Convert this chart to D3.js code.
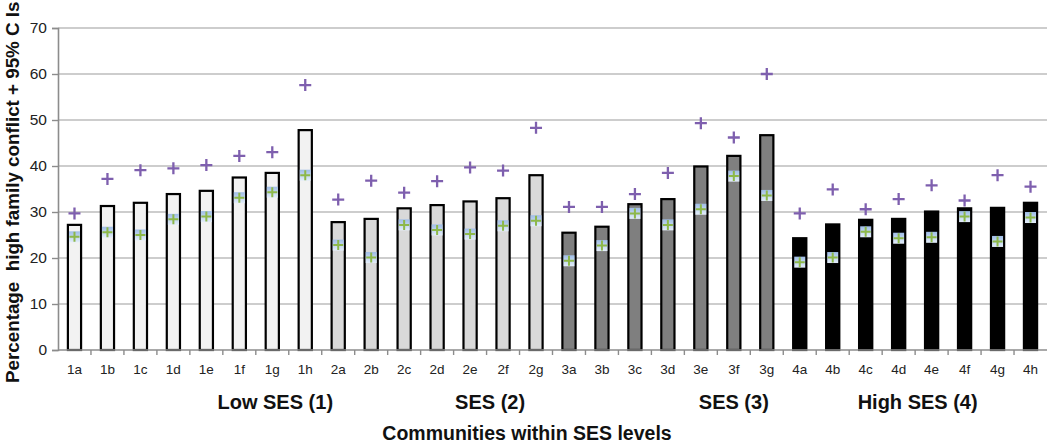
<!DOCTYPE html>
<html lang="en">
<head>
    <meta charset="utf-8">
    <title>High family conflict by community</title>
    <style>
        body { margin: 0; background: #fff; }
        text { font-family: "Liberation Sans", Arial, sans-serif; }
    </style>
</head>
<body>
    <svg width="1050" height="444"></svg>
    <script src="https://cdn.jsdelivr.net/npm/d3@7"></script>
    <script>
        // communities, grouped by SES level
        const communities = [
            "1a", "1b", "1c", "1d", "1e", "1f", "1g", "1h",
            "2a", "2b", "2c", "2d", "2e", "2f", "2g",
            "3a", "3b", "3c", "3d", "3e", "3f", "3g",
            "4a", "4b", "4c", "4d", "4e", "4f", "4g", "4h"
        ];
        const sesLevel = [
            1, 1, 1, 1, 1, 1, 1, 1,
            2, 2, 2, 2, 2, 2, 2,
            3, 3, 3, 3, 3, 3, 3,
            4, 4, 4, 4, 4, 4, 4, 4
        ];
        // percentage high family conflict
        const percent = [
            27.2, 31.3, 32.0, 33.9, 34.6, 37.5, 38.5, 47.8,
            27.8, 28.5, 30.8, 31.5, 32.3, 33.0, 38.0,
            25.5, 26.8, 31.7, 32.8, 39.9, 42.2, 46.7,
            24.3, 27.3, 28.3, 28.5, 30.1, 30.8, 30.9, 32.0
        ];
        // 95% confidence interval bounds
        const lowerCI = [
            24.6, 25.6, 25.0, 28.4, 29.0, 33.1, 34.3, 38.0,
            22.8, 20.1, 27.2, 26.1, 25.2, 27.0, 28.1,
            19.4, 22.7, 29.7, 27.2, 30.6, 37.8, 33.6,
            19.1, 20.1, 25.7, 24.3, 24.5, 29.0, 23.6, 28.8
        ];
        const upperCI = [
            29.7, 37.2, 39.1, 39.5, 40.2, 42.2, 43.0, 57.6,
            32.7, 36.8, 34.2, 36.7, 39.7, 39.0, 48.3,
            31.1, 31.1, 33.9, 38.5, 49.3, 46.2, 60.0,
            29.7, 34.9, 30.6, 32.8, 35.8, 32.5, 38.0, 35.5
        ];
        const yTicks = [0, 10, 20, 30, 40, 50, 60, 70];
        const groupLabels = ["Low SES (1)", "SES (2)", "SES (3)", "High SES (4)"];
        const groupFill = ["#f2f2f2", "#d9d9d9", "#7f7f7f", "#000000"];

        const svg = d3.select("svg");
        const margin = {top: 28, right: 3, bottom: 94, left: 58};
        const width = +svg.attr("width");
        const height = +svg.attr("height");
        const plotW = width - margin.left - margin.right;
        const plotH = height - margin.top - margin.bottom;

        const x = d3.scaleBand()
            .domain(communities)
            .range([margin.left, margin.left + plotW]);

        const y = d3.scaleLinear()
            .domain([0, 70])
            .range([margin.top + plotH, margin.top]);

        const rows = communities.map((c, i) => ({
            name: c, level: sesLevel[i], pct: percent[i], lo: lowerCI[i], hi: upperCI[i]
        }));

        // gridlines
        svg.append("g")
            .selectAll("line")
            .data(yTicks.filter(d => d > 0))
            .join("line")
                .attr("x1", margin.left)
                .attr("x2", margin.left + plotW)
                .attr("y1", d => y(d))
                .attr("y2", d => y(d))
                .attr("stroke", "#bdbdbd")
                .attr("stroke-width", 1.6);

        // y axis
        const yAxis = svg.append("g")
            .attr("transform", `translate(${margin.left},0)`)
            .call(d3.axisLeft(y).tickValues(yTicks).tickSize(6).tickPadding(5));
        yAxis.select(".domain").attr("stroke", "#8c8c8c").attr("stroke-width", 1.6);
        yAxis.selectAll(".tick line").attr("stroke", "#8c8c8c").attr("stroke-width", 1.4);
        yAxis.selectAll(".tick text")
            .attr("font-size", 15.5)
            .attr("fill", "#222")
            .attr("font-family", "Liberation Sans, Arial, sans-serif");

        // bars
        const barW = x.bandwidth() * 0.4;
        svg.append("g")
            .selectAll("rect")
            .data(rows)
            .join("rect")
                .attr("x", d => x(d.name) + (x.bandwidth() - barW) / 2)
                .attr("y", d => y(d.pct))
                .attr("width", barW)
                .attr("height", d => y(0) - y(d.pct))
                .attr("fill", d => groupFill[d.level - 1])
                .attr("stroke", "#000")
                .attr("stroke-width", 2.2);

        // x axis
        const xAxisG = svg.append("g")
            .attr("transform", `translate(0,${y(0)})`);
        xAxisG.append("line")
            .attr("x1", margin.left)
            .attr("x2", margin.left + plotW)
            .attr("stroke", "#8c8c8c")
            .attr("stroke-width", 1.6);
        xAxisG.selectAll("line.tick")
            .data(communities.slice(1))
            .join("line")
                .attr("class", "tick")
                .attr("x1", d => x(d))
                .attr("x2", d => x(d))
                .attr("y1", 0)
                .attr("y2", 5)
                .attr("stroke", "#8c8c8c")
                .attr("stroke-width", 1.4);
        xAxisG.selectAll("text")
            .data(communities)
            .join("text")
                .attr("x", d => x(d) + x.bandwidth() / 2)
                .attr("y", 24)
                .attr("text-anchor", "middle")
                .attr("font-size", 13.5)
                .attr("fill", "#222")
                .text(d => d);

        // upper CI markers (purple plus)
        const plus = s => `M${-s},0H${s}M0,${-s}V${s}`;
        svg.append("g")
            .selectAll("path")
            .data(rows)
            .join("path")
                .attr("transform", d => `translate(${x(d.name) + x.bandwidth() / 2},${y(d.hi)})`)
                .attr("d", plus(6))
                .attr("stroke", "#7e5fae")
                .attr("stroke-width", 2.3)
                .attr("fill", "none");

        // lower CI markers (green plus on pale blue square)
        const defs = svg.append("defs");
        const grad = defs.append("linearGradient")
            .attr("id", "lowgrad")
            .attr("x1", 0).attr("y1", 0).attr("x2", 0).attr("y2", 1);
        grad.append("stop").attr("offset", "0%").attr("stop-color", "#9fbde6");
        grad.append("stop").attr("offset", "100%").attr("stop-color", "#e4eefa");

        const lowG = svg.append("g")
            .selectAll("g")
            .data(rows)
            .join("g")
                .attr("transform", d => `translate(${x(d.name) + x.bandwidth() / 2},${y(d.lo)})`);
        lowG.append("rect")
            .attr("x", -5.5).attr("y", -5.5)
            .attr("width", 11).attr("height", 11)
            .attr("fill", "url(#lowgrad)");
        lowG.append("path")
            .attr("d", plus(5))
            .attr("stroke", "#8db84a")
            .attr("stroke-width", 2)
            .attr("fill", "none");

        // SES group labels, placed under the community they sit beneath
        const groupAnchor = ["1g", "2e", "3f", "4d"];
        const groupShift = [3, 20, 0, 19];
        svg.append("g")
            .selectAll("text")
            .data(groupLabels)
            .join("text")
                .attr("x", (d, i) => x(groupAnchor[i]) + x.bandwidth() / 2 + groupShift[i])
                .attr("y", 409)
                .attr("text-anchor", "middle")
                .attr("font-size", 20)
                .attr("font-weight", "bold")
                .attr("fill", "#111")
                .text(d => d);

        // axis titles
        svg.append("text")
            .attr("x", 527)
            .attr("y", 440)
            .attr("text-anchor", "middle")
            .attr("font-size", 19.5)
            .attr("font-weight", "bold")
            .attr("fill", "#111")
            .text("Communities within SES levels");

        svg.append("text")
            .attr("transform", "translate(19,383) rotate(-90)")
            .attr("text-anchor", "start")
            .attr("font-size", 18.8)
            .attr("font-weight", "bold")
            .attr("fill", "#111")
            .style("white-space", "pre")
            .text("Percentage  high family conflict + 95% C Is");
    </script>
</body>
</html>
